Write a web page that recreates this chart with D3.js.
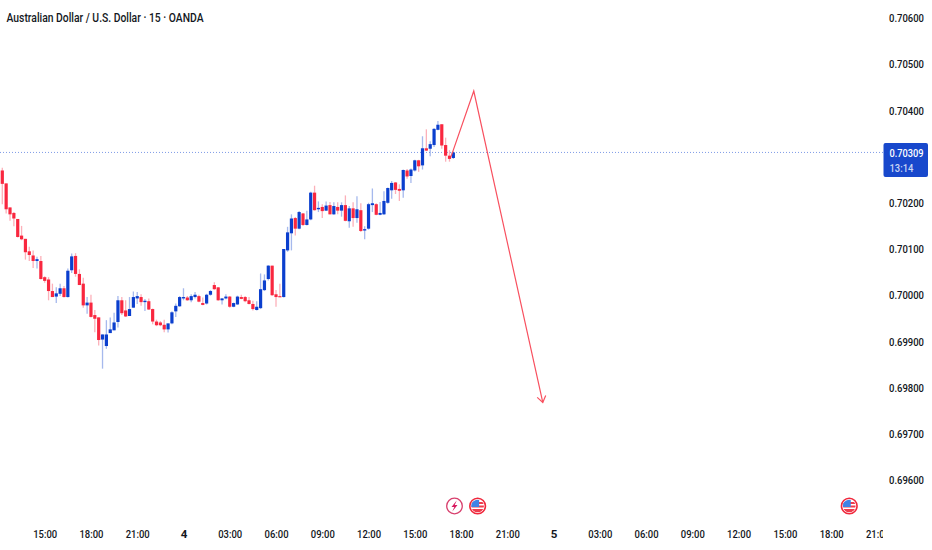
<!DOCTYPE html>
<html lang="en">
<head>
  <meta charset="UTF-8">
  <title>AUD/USD 15m</title>
  <script src="https://d3js.org/d3.v7.min.js"></script>
  <style>
    html, body { margin: 0; padding: 0; background: #fff; }
    svg { display: block; }
    text { font-family: Roboto, sans-serif; font-weight: 500; }
  </style>
</head>
<body>
  <svg width="932" height="550"></svg>

  <script>
    // prices are in points (price * 100000)
    const opens = [70270,70242,70190,70178,70165,70129,70122,70095,70086,70074,70074,70039,70034,70009,69997,70003,70015,69996,70054,70085,70046,70025,69978,69984,69957,69952,69904,69890,69918,69924,69942,69989,69967,69955,69973,69993,69996,69985,69987,
      69970,69943,69941,69936,69926,69939,69965,69976,69993,69995,69989,69996,69998,69983,69982,70001,70022,70017,69989,69993,69997,69975,69980,69996,69996,69989,69981,69968,69972,70011,70035,70064,70002,69998,69996,70097,
      70134,70167,70144,70177,70152,70164,70222,70186,70191,70183,70195,70175,70191,70183,70195,70160,70188,70167,70184,70140,70144,70195,70197,
      70174,70175,70200,70227,70244,70230,70227,70270,70258,70270,70292,70281,70318,70317,70325,70358,70370,70325,70302,70297];
    const highs = [70276,70242,70190,70180,70165,70150,70122,70105,70097,70083,70085,70041,70039,70025,70017,70025,70020,70058,70090,70091,70056,70038,69996,70001,69968,69952,69915,69946,69952,69962,69998,69996,69989,69996,70008,70007,70002,69992,69993,
      69971,69947,69944,69947,69939,69965,69982,69998,70015,69998,70002,70007,70001,69995,70003,70011,70028,70018,69994,70002,69998,69984,69999,70001,69998,69996,69988,69987,70047,70045,70065,70064,70011,70025,70100,70148,
      70175,70169,70182,70178,70183,70224,70237,70203,70197,70203,70202,70201,70201,70201,70216,70193,70201,70214,70199,70149,70200,70231,70199,
      70202,70225,70233,70247,70245,70240,70272,70273,70274,70293,70293,70344,70359,70333,70362,70377,70370,70341,70314,70311];
    const lows = [70197,70177,70161,70149,70125,70119,70077,70074,70059,70058,70034,70027,69989,69996,69983,69998,69995,69995,70048,70040,70022,69973,69960,69952,69920,69891,69841,69884,69918,69924,69930,69957,69953,69955,69973,69981,69977,69966,69968,
      69937,69933,69933,69920,69919,69937,69953,69975,69989,69988,69985,69993,69985,69978,69980,69999,70012,69988,69980,69991,69973,69974,69979,69991,69985,69980,69967,69967,69970,70009,70032,69998,69975,69996,69995,70094,
      70097,70129,70143,70150,70151,70162,70183,70180,70167,70182,70175,70174,70175,70170,70160,70146,70148,70157,70137,70121,70142,70180,70173,
      70173,70174,70198,70209,70219,70204,70211,70252,70243,70268,70267,70272,70312,70301,70321,70357,70317,70289,70289,70295];
    const closes = [70241,70186,70175,70166,70126,70121,70093,70087,70074,70078,70035,70031,70009,69996,70004,70015,69996,70053,70084,70046,70022,69978,69984,69953,69949,69903,69915,69915,69926,69941,69989,69961,69954,69970,69996,69998,69985,69988,69969,
      69943,69935,69935,69926,69939,69963,69977,69996,69996,69989,69998,70001,69986,69979,70001,70009,70013,69989,69993,69997,69975,69983,69997,69992,69987,69981,69970,69975,70013,70032,70064,70000,69996,69996,70100,70136,
      70166,70144,70180,70152,70164,70222,70184,70189,70182,70194,70175,70193,70183,70195,70161,70188,70167,70186,70139,70143,70197,70199,70174,
      70178,70204,70232,70243,70228,70226,70271,70257,70272,70292,70279,70318,70313,70327,70360,70369,70324,70302,70295,70309];

    const priceTicks = [70600,70500,70400,70200,70100,70000,69900,69800,69700,69600];
    const lastPrice = 70309;
    const countdown = "13:14";

    // bar index of each time label; bars are 15 minutes, so 12 bars per label
    const timeBars = [11,23,35,47,59,71,83,95,107,119,131,143,155,167,179,191,203,215,227];
    const timeLabels = ["15:00","18:00","21:00","4","03:00","06:00","09:00","12:00","15:00","18:00","21:00","5","03:00","06:00","09:00","12:00","15:00","18:00","21:00"];

    // drawn projection: bar index and price of each vertex
    const arrowBars = [116.4, 122.3, 140.2];
    const arrowPrices = [70300, 70442, 69768];

    const eventBars = [117.3, 123.3, 219.7];
    const eventKinds = ["bolt", "flag", "flag"];

    const red = "#f9273f";
    const blue = "#0b3fce";
    const labelFont = "11.5px";

    const svg = d3.select("svg");

    const x = d3.scaleLinear().domain([0, 227]).range([2.3, 877.4]);
    const y = d3.scaleLinear().domain([69600, 70600]).range([480, 18]);

    const bars = d3.range(opens.length);
    const colorOf = i => closes[i] >= opens[i] ? blue : red;

    // the reference font is narrower than anything installed, so squeeze it
    function squeeze(sel, width) {
      sel.attr("textLength", width).attr("lengthAdjust", "spacingAndGlyphs");
    }

    // Clip for the time axis, the last label gets cut by the price scale
    svg.append("clipPath").attr("id", "time-clip")
      .append("rect").attr("x", 0).attr("y", 510).attr("width", 883).attr("height", 40);

    // last price line
    svg.append("line")
      .attr("x1", 0).attr("x2", 884)
      .attr("y1", y(lastPrice)).attr("y2", y(lastPrice))
      .attr("stroke", "#2a5bd7").attr("stroke-width", 1)
      .attr("stroke-dasharray", "1 2").attr("opacity", 0.6);

    // wicks
    svg.selectAll(".wick").data(bars).enter().append("line")
      .attr("class", "wick")
      .attr("x1", i => x(i)).attr("x2", i => x(i))
      .attr("y1", i => y(highs[i])).attr("y2", i => y(lows[i]))
      .attr("stroke", colorOf).attr("stroke-width", 1.3).attr("opacity", 0.36);

    // bodies
    svg.selectAll(".body").data(bars).enter().append("rect")
      .attr("class", "body")
      .attr("x", i => x(i) - 1.6)
      .attr("width", 3.2)
      .attr("y", i => y(Math.max(opens[i], closes[i])))
      .attr("height", i => Math.max(1.2, Math.abs(y(opens[i]) - y(closes[i]))))
      .attr("fill", colorOf);

    // projection line with open arrow head
    const arrowPts = arrowBars.map((b, k) => [x(b), y(arrowPrices[k])]);
    const arrowLine = d3.line();
    svg.append("path")
      .attr("d", arrowLine(arrowPts))
      .attr("fill", "none").attr("stroke", "#f8505f").attr("stroke-width", 1.2);

    const tip = arrowPts[2], prev = arrowPts[1];
    const angle = Math.atan2(tip[1] - prev[1], tip[0] - prev[0]);
    const barbs = [-0.62, 0.62].map(a => [
      tip[0] - 7.5 * Math.cos(angle + a),
      tip[1] - 7.5 * Math.sin(angle + a)
    ]);
    svg.append("path")
      .attr("d", arrowLine([barbs[0], tip, barbs[1]]))
      .attr("fill", "none").attr("stroke", "#f8505f").attr("stroke-width", 1.2);

    // price axis
    const priceAxis = svg.append("g")
      .attr("transform", "translate(884,0)")
      .call(d3.axisRight(y).tickValues(priceTicks).tickSize(0).tickPadding(5)
        .tickFormat(d => (d / 100000).toFixed(5)));
    priceAxis.select(".domain").remove();
    priceAxis.selectAll("text")
      .style("font-size", labelFont)
      .attr("fill", "#131722")
      .call(squeeze, 35);

    // time axis
    const timeAxis = svg.append("g")
      .attr("clip-path", "url(#time-clip)")
      .append("g")
      .attr("transform", "translate(0,525)")
      .call(d3.axisBottom(x).tickValues(timeBars).tickSize(0).tickPadding(5)
        .tickFormat(d => timeLabels[timeBars.indexOf(d)]));
    timeAxis.select(".domain").remove();
    timeAxis.selectAll("text")
      .style("font-size", labelFont)
      .attr("fill", "#131722");
    timeAxis.selectAll("text").filter(d => d !== 47 && d !== 143).call(squeeze, 24);
    timeAxis.selectAll("text").filter(d => d === 47 || d === 143).style("font-weight", 700);

    // last price box
    svg.append("rect")
      .attr("x", 883.5).attr("y", y(lastPrice) - 9.5)
      .attr("width", 44.5).attr("height", 34).attr("rx", 2)
      .attr("fill", "#1848cc");
    svg.append("text")
      .attr("x", 889.5).attr("y", y(lastPrice) + 4.5)
      .attr("fill", "#fff").style("font-size", labelFont)
      .text((lastPrice / 100000).toFixed(5))
      .call(squeeze, 34);
    svg.append("text")
      .attr("x", 889.5).attr("y", y(lastPrice) + 20)
      .attr("fill", "#c9d6f5").style("font-size", labelFont)
      .text(countdown)
      .call(squeeze, 24);

    // title
    svg.append("text")
      .attr("x", 6.5).attr("y", 22)
      .attr("fill", "#131722")
      .style("font-size", "13.5px")
      .text("Australian Dollar / U.S. Dollar · 15 · OANDA")
      .call(squeeze, 197);

    // event markers on the time axis
    const events = svg.selectAll(".event").data(eventBars).enter().append("g")
      .attr("class", "event")
      .attr("transform", d => "translate(" + x(d) + ",506)");

    events.filter((d, i) => eventKinds[i] === "bolt").each(function() {
      const g = d3.select(this);
      g.append("circle").attr("r", 7.8).attr("fill", "#fff")
        .attr("stroke", "#d8406e").attr("stroke-width", 1.3);
      g.append("path")
        .attr("d", "M2.2,-5.5 L-3,1 L-0.2,1 L-2.2,5.5 L3,-1 L0.2,-1 Z")
        .attr("fill", "#d81b60");
    });

    events.filter((d, i) => eventKinds[i] === "flag").each(function(d, k) {
      const g = d3.select(this);
      const clipId = "flag-clip-" + k;
      g.append("clipPath").attr("id", clipId).append("circle").attr("r", 6.3);
      g.append("circle").attr("r", 7.8).attr("fill", "#fff")
        .attr("stroke", "#f0283c").attr("stroke-width", 1.6);
      const inner = g.append("g").attr("clip-path", "url(#" + clipId + ")");
      inner.append("rect").attr("x", -7).attr("y", -7).attr("width", 14).attr("height", 14).attr("fill", "#fff");
      inner.append("rect").attr("x", -7).attr("y", -4).attr("width", 14).attr("height", 2).attr("fill", "#ef3b4d");
      inner.append("rect").attr("x", -7).attr("y", -0.5).attr("width", 14).attr("height", 2).attr("fill", "#ef3b4d");
      inner.append("rect").attr("x", -7).attr("y", 3).attr("width", 14).attr("height", 4).attr("fill", "#ef3b4d");
      inner.append("rect").attr("x", -7).attr("y", -7).attr("width", 8.5).attr("height", 8).attr("fill", "#3f83e6");
    });
  </script>
</body>
</html>
